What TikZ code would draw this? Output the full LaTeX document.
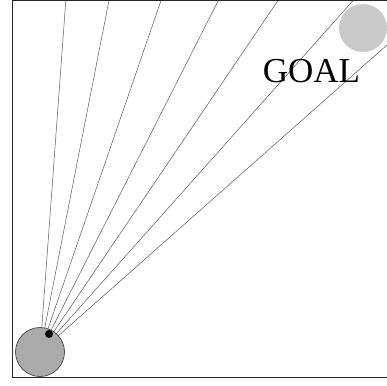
\documentclass[tikz,border=0pt]{standalone}
\usepackage{fontspec}
\setmainfont{Liberation Serif}
\usetikzlibrary{positioning}

\begin{document}
\begin{tikzpicture}[x=1pt, y=-1pt,
  ray/.style={draw=black!65, line width=0.5pt},
  robot/.style={circle, draw=black!80, fill=black!33, line width=0.6pt, minimum size=49pt, inner sep=0pt},
  goalzone/.style={circle, fill=black!21, minimum size=48pt, inner sep=0pt},
  sensor/.style={circle, fill=black, minimum size=8pt, inner sep=0pt},
  lbl/.style={font=\fontsize{35}{35}\selectfont, anchor=base, inner sep=0pt}
]
\useasboundingbox (0,0) rectangle (387,385);
\coordinate (start) at (40,352);
% fan of rays, clipped by the arena
\begin{scope}
 \clip (12.7,0.6) rectangle (387,377);
 \foreach \a [count=\i] in {85.8,78.9,71.0,63.1,55.9,48.3,41.5}
  \draw[ray] (start) -- ++(-\a:600) coordinate (r\i);
\end{scope}
\draw[black!85, line width=0.9pt] (387,0.6) -- (12.7,0.6) -- (12.7,377) -- (387,377);
\node[goalzone] (goal) at (363,28) {};
\node[lbl] (goaltxt) at (311.5,83) {GOAL};
\node[robot] (bot) at (start) {};
\node[sensor] (eye) at (49,334) {};
\end{tikzpicture}
\end{document}
